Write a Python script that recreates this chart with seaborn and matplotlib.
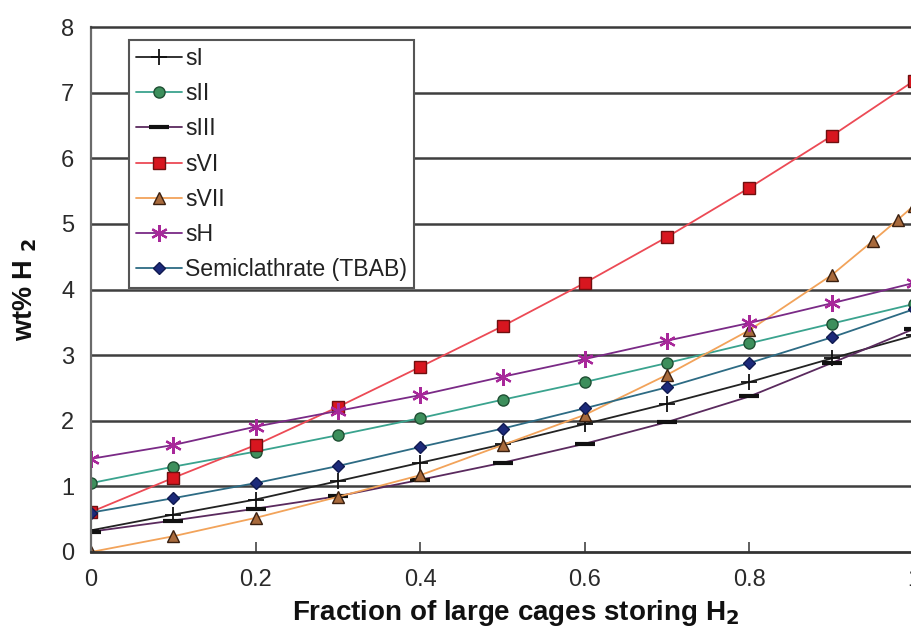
import matplotlib
matplotlib.use("Agg")
import matplotlib.pyplot as plt
import seaborn as sns
import pandas as pd

# Fraction of large cages occupied by H2
frac = [0.0, 0.1, 0.2, 0.3, 0.4, 0.5, 0.6, 0.7, 0.8, 0.9, 1.0]
frac_svii = [0.0, 0.1, 0.2, 0.3, 0.4, 0.5, 0.6, 0.7, 0.8, 0.9, 0.95, 0.98, 1.0]

# Hydrogen content (wt% H2) for each hydrate structure
s_i = [0.33, 0.57, 0.80, 1.08, 1.36, 1.64, 1.95, 2.26, 2.59, 2.95, 3.30]
s_ii = [1.05, 1.30, 1.53, 1.78, 2.04, 2.32, 2.59, 2.88, 3.18, 3.48, 3.78]
s_iii = [0.31, 0.48, 0.66, 0.85, 1.10, 1.36, 1.65, 1.98, 2.37, 2.88, 3.40]
s_vi = [0.61, 1.13, 1.63, 2.21, 2.82, 3.44, 4.10, 4.80, 5.55, 6.34, 7.18]
s_vii = [0.00, 0.24, 0.52, 0.84, 1.17, 1.63, 2.09, 2.70, 3.38, 4.22, 4.74, 5.06, 5.28]
s_h = [1.42, 1.63, 1.91, 2.15, 2.39, 2.67, 2.94, 3.22, 3.49, 3.79, 4.10]
tbab = [0.60, 0.82, 1.05, 1.31, 1.60, 1.88, 2.19, 2.51, 2.88, 3.27, 3.70]

labels = ["sI", "sII", "sIII", "sVI", "sVII", "sH", "Semiclathrate (TBAB)"]
x_ticks = [0, 0.2, 0.4, 0.6, 0.8, 1]
x_tick_labels = ["0", "0.2", "0.4", "0.6", "0.8", "1"]
y_ticks = [0, 1, 2, 3, 4, 5, 6, 7, 8]

sns.set_theme(style="white")
plt.rcParams["font.family"] = ["Liberation Sans", "DejaVu Sans"]

fig = plt.figure(figsize=(9.11, 6.36), dpi=100)
ax = fig.add_axes([91 / 911, 84 / 636, 823 / 911, 525 / 636])

asterisk = (6, 2, 0)
styles = [
    # (x, y, line colour, marker, marker face, marker edge, size, mew)
    (frac, s_i, "#222222", "+", "#111111", "#111111", 11, 1.3),
    (frac, s_ii, "#3aa38e", "o", "#3d8f5c", "#1f4f33", 8, 1.0),
    (frac, s_iii, "#5a2a5e", "_", "#111111", "#111111", 14, 3.0),
    (frac, s_vi, "#ec4a55", "s", "#d8161f", "#6e1010", 8, 1.0),
    (frac_svii, s_vii, "#f2a35a", "^", "#a86a3c", "#3a2010", 8, 1.0),
    (frac, s_h, "#7a2a86", asterisk, "#a8289a", "#a8289a", 12, 1.6),
    (frac, tbab, "#2d6b84", "D", "#1c2a7a", "#101a50", 6.5, 1.0),
]

for (xs, ys, lc, mk, mfc, mec, ms, mew), lab in zip(styles, labels):
    df = pd.DataFrame({"x": xs, "y": ys})
    sns.lineplot(data=df, x="x", y="y", ax=ax, color=lc, linewidth=1.3,
                 marker=mk, markersize=ms, markerfacecolor=mfc,
                 markeredgecolor=mec, markeredgewidth=mew, label=lab)

ax.set_xlim(0, 1)
ax.set_ylim(0, 8)
ax.set_xticks(x_ticks)
ax.set_xticklabels(x_tick_labels)
ax.set_yticks(y_ticks)

# horizontal grid lines at each integer
ax.grid(False)
for yv in y_ticks[1:-1]:
    ax.axhline(yv, color="#3f3f3f", linewidth=1.8, zorder=0.5)

ax.spines["right"].set_visible(False)
ax.spines["top"].set_color("#3a3a3a")
ax.spines["top"].set_linewidth(1.8)
ax.spines["left"].set_color("#6a6a6a")
ax.spines["left"].set_linewidth(1.6)
ax.spines["bottom"].set_color("#333333")
ax.spines["bottom"].set_linewidth(2.0)

ax.tick_params(axis="x", direction="in", length=7, width=1.2, color="#444444",
               labelsize=17, labelcolor="#2a2a2a", pad=12, bottom=True, top=False)
ax.tick_params(axis="y", length=0, labelsize=17, labelcolor="#2a2a2a", pad=12,
               left=True)

ax.set_xlabel("Fraction of large cages storing H$_\\mathbf{2}$", fontsize=20,
              fontweight="bold", color="#111111")
ax.set_ylabel("wt% H $_\\mathbf{2}$", fontsize=19.5, fontweight="bold",
              color="#111111")
ax.xaxis.set_label_coords((516 - 91) / 823, (552 - 598) / 525)
ax.yaxis.set_label_coords((39 - 91) / 823, (552 - 290) / 525)

leg = ax.legend(loc="upper left", bbox_to_anchor=((129 - 91) / 823, (552 - 40) / 525),
                borderaxespad=0, fontsize=16.6, frameon=True, fancybox=False,
                edgecolor="#555555", framealpha=1, handlelength=2.0,
                handletextpad=0.15, labelspacing=0.53, borderpad=0.3)
leg.get_frame().set_linewidth(1.5)
for t in leg.get_texts():
    t.set_color("#222222")

fig.savefig("out.png", dpi=100, facecolor="white")
